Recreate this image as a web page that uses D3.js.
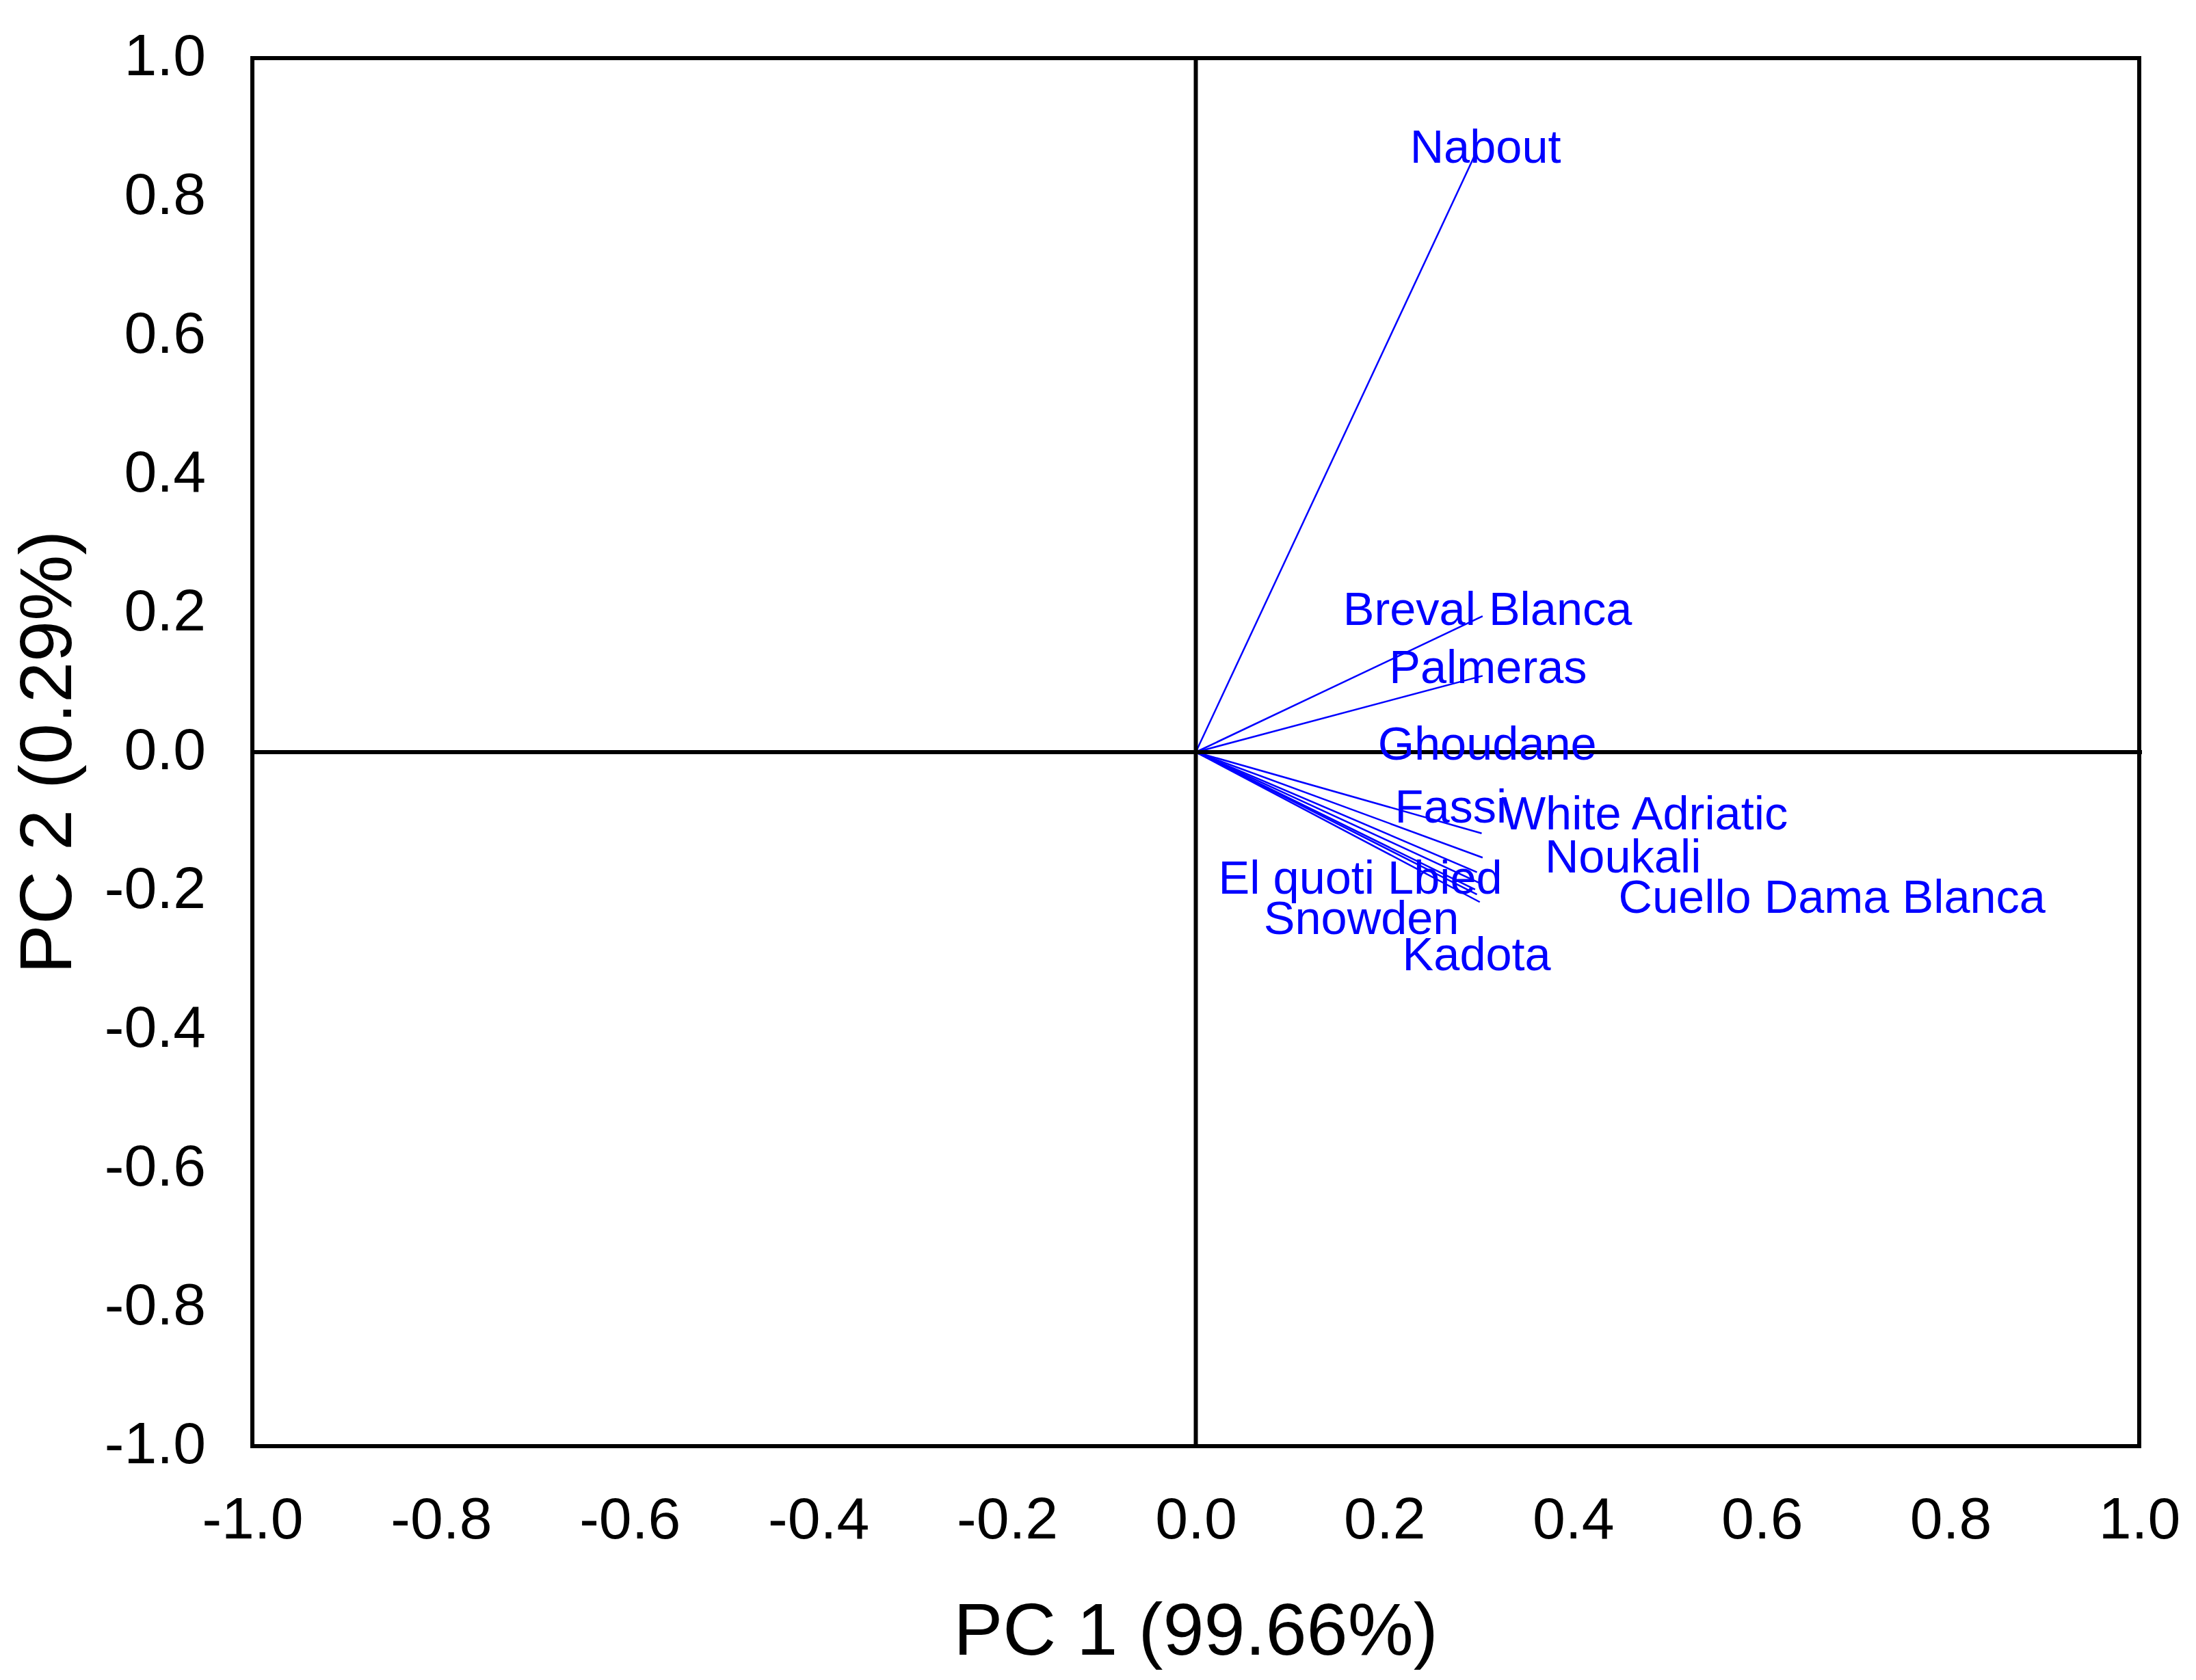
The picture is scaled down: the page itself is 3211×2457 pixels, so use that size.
<!DOCTYPE html>
<html>
<head>
<meta charset="utf-8">
<script src="https://cdn.jsdelivr.net/npm/d3@7"></script>
<style>
  body { margin: 0; background: #fff; }
  text { font-family: "Liberation Sans", Arial, sans-serif; }
</style>
</head>
<body>
<script>
// PCA loadings plot, PC1 vs PC2

var cultivars = ['Nabout', 'Breval Blanca', 'Palmeras', 'Ghoudane', 'Fassi',
  'White Adriatic', 'Noukali', 'Cuello Dama Blanca', 'El quoti Lbied', 'Snowden', 'Kadota'];

// vector end points (PC1, PC2)
var pc1 = [0.295, 0.304, 0.304, 0.302, 0.303, 0.304, 0.298, 0.300, 0.296, 0.298, 0.301];
var pc2 = [0.858, 0.196, 0.110, -0.002, -0.117, -0.152, -0.173, -0.188, -0.198, -0.205, -0.216];

// where each label sits, in data units (start of text, baseline)
var labelX = [0.227, 0.156, 0.205, 0.193, 0.211, 0.324, 0.370, 0.448, 0.024, 0.072, 0.219];
var labelY = [0.849, 0.183, 0.100, -0.011, -0.101, -0.111, -0.173, -0.232, -0.204, -0.262, -0.314];

var xTicks = [-1.0, -0.8, -0.6, -0.4, -0.2, 0.0, 0.2, 0.4, 0.6, 0.8, 1.0];
var yTicks = [-1.0, -0.8, -0.6, -0.4, -0.2, 0.0, 0.2, 0.4, 0.6, 0.8, 1.0];

var xTitle = 'PC 1 (99.66%)';
var yTitle = 'PC 2 (0.29%)';

var WIDTH = 3211;
var HEIGHT = 2457;
var plotLeft = 369, plotRight = 3128, plotTop = 85, plotBottom = 2115;

var svg = d3.select('body')
  .append('svg')
  .attr('width', WIDTH)
  .attr('height', HEIGHT);

var x = d3.scaleLinear().domain([-1, 1]).range([plotLeft, plotRight]);
var y = d3.scaleLinear().domain([-1, 1]).range([plotBottom, plotTop]);

// hyphen instead of the unicode minus, like the original
var fmt = function(d){ return d3.format('.1f')(d).replace('\u2212', '-'); };

// vectors
var rows = cultivars.map(function(name, i){
  return {name: name, x: pc1[i], y: pc2[i], lx: labelX[i], ly: labelY[i]};
});

svg.selectAll('line.vec')
  .data(rows)
  .enter()
  .append('line')
  .attr('class', 'vec')
  .attr('x1', x(0))
  .attr('y1', y(0))
  .attr('x2', function(d){return x(d.x);})
  .attr('y2', function(d){return y(d.y);})
  .attr('stroke', '#0000ff')
  .attr('stroke-width', 2.5);

// frame
svg.append('rect')
  .attr('x', plotLeft)
  .attr('y', plotTop)
  .attr('width', plotRight - plotLeft)
  .attr('height', plotBottom - plotTop)
  .attr('fill', 'none')
  .attr('stroke', '#000')
  .attr('stroke-width', 6);

// zero lines
svg.append('line')
  .attr('x1', plotLeft).attr('x2', plotRight + 4)
  .attr('y1', y(0)).attr('y2', y(0))
  .attr('stroke', '#000').attr('stroke-width', 6);
svg.append('line')
  .attr('x1', x(0)).attr('x2', x(0))
  .attr('y1', plotTop).attr('y2', plotBottom)
  .attr('stroke', '#000').attr('stroke-width', 6);

// axes, labels only
var xAxis = svg.append('g')
  .attr('transform', 'translate(0,' + plotBottom + ')')
  .call(d3.axisBottom(x).tickValues(xTicks).tickSize(0).tickPadding(135)
    .tickFormat(fmt));
var yAxis = svg.append('g')
  .attr('transform', 'translate(' + plotLeft + ',0)')
  .call(d3.axisLeft(y).tickValues(yTicks).tickSize(0).tickPadding(68)
    .tickFormat(fmt));

[xAxis, yAxis].forEach(function(g){
  g.select('.domain').remove();
  g.selectAll('text')
    .attr('font-family', '"Liberation Sans", Arial, sans-serif')
    .attr('font-size', 86)
    .attr('fill', '#000');
});
xAxis.selectAll('text').attr('dy', 0);
yAxis.selectAll('text').attr('dy', 24);

svg.selectAll('text.lab')
  .data(rows)
  .enter()
  .append('text')
  .attr('class', 'lab')
  .attr('x', function(d){return x(d.lx);})
  .attr('y', function(d){return y(d.ly);})
  .attr('font-size', 68.5)
  .attr('fill', '#0000ff')
  .text(function(d){return d.name;});

// axis titles
svg.append('text')
  .attr('x', (plotLeft + plotRight) / 2)
  .attr('y', 2420)
  .attr('text-anchor', 'middle')
  .attr('font-size', 108)
  .attr('fill', '#000')
  .text(xTitle);

svg.append('text')
  .attr('transform', 'translate(104,' + y(0) + ') rotate(-90)')
  .attr('text-anchor', 'middle')
  .attr('font-size', 108)
  .attr('fill', '#000')
  .text(yTitle);
</script>
</body>
</html>
